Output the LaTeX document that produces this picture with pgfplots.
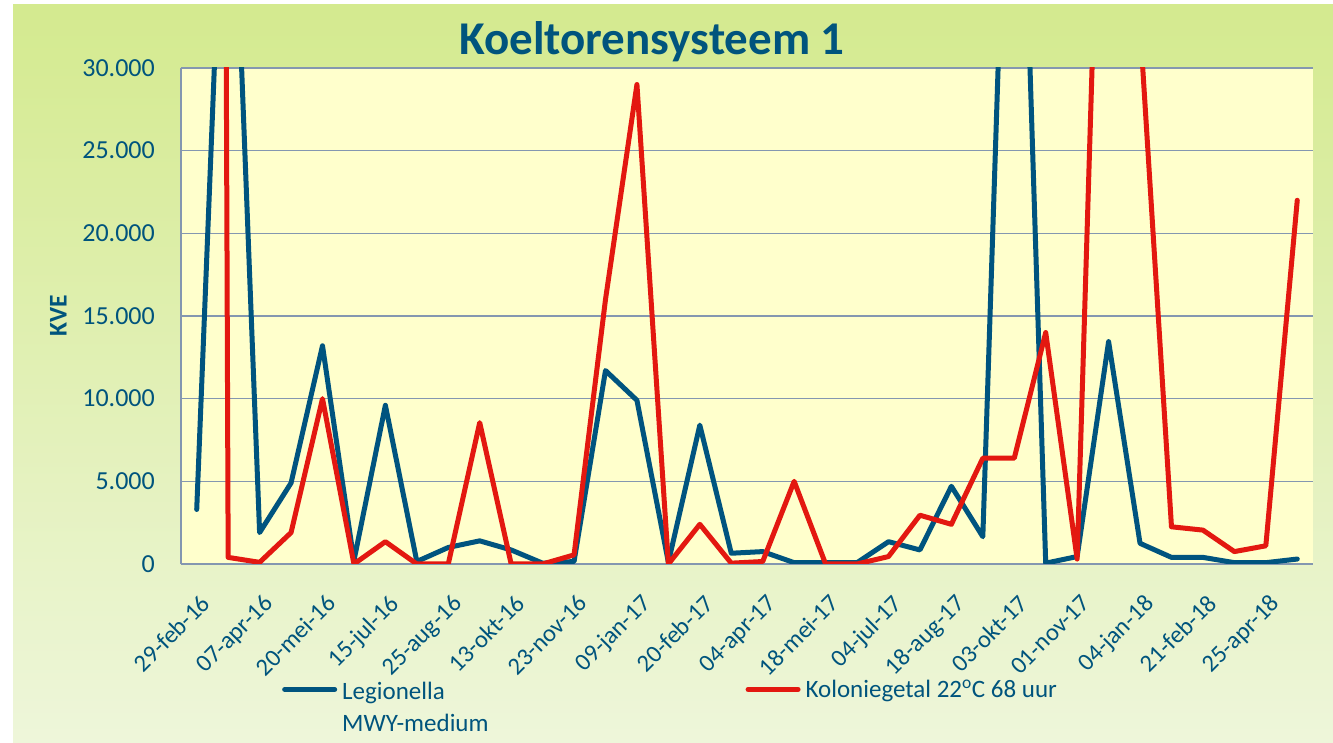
\documentclass[border=0pt]{standalone}
\usepackage{fontspec}
\setmainfont{Carlito}
\usepackage{pgfplots}
\usepackage{pgfplotstable}
\pgfplotsset{compat=1.18}
\definecolor{bgtop}{RGB}{212,234,143}
\definecolor{bgbot}{RGB}{238,246,218}
\definecolor{plotbg}{RGB}{255,255,204}
\definecolor{gridc}{RGB}{132,151,176}
\definecolor{txtblue}{RGB}{0,84,125}
\definecolor{legblue}{RGB}{0,84,127}
\definecolor{kred}{RGB}{227,24,16}

\pgfplotstableread{
i leg kol
0 3300 500000
1 51000 400
2 1900 100
3 4900 1900
4 13200 10000
5 200 0
6 9600 1350
7 150 0
8 1000 0
9 1400 8550
10 850 0
11 50 0
12 150 550
13 11700 16000
14 9900 29000
15 100 0
16 8400 2400
17 650 50
18 750 150
19 80 5000
20 80 0
21 80 0
22 1350 450
23 850 2950
24 4700 2400
25 1650 6400
26 60000 6400
27 50 14000
28 450 300
29 13450 63000
30 1250 32600
31 400 2250
32 400 2050
33 80 750
34 80 1100
35 300 22000
}\datatable

\begin{document}
\begin{tikzpicture}[x=1pt,y=1pt]
\path[use as bounding box] (0,0) rectangle (1333,743);
\fill[white] (0,0) rectangle (1333,743);
\shade[top color=bgtop, bottom color=bgbot] (13,0) rectangle (1333,738);
\begin{axis}[
  at={(181pt,179pt)}, anchor=south west,
  scale only axis, width=1132pt, height=496pt,
  xmin=-0.5, xmax=35.5, ymin=0, ymax=30000,
  scaled y ticks=false,
  axis background/.style={fill=plotbg},
  axis x line*=bottom, axis y line*=left,
  axis line style={draw=gridc, line width=1.2pt, -},
  ymajorgrids, grid style={draw=gridc, line width=1.2pt},
  major tick length=0pt,
  ytick={0,5000,10000,15000,20000,25000,30000},
  yticklabels={0,5.000,10.000,15.000,20.000,25.000,30.000},
  yticklabel style={font=\fontsize{26}{31}\selectfont, text=txtblue, anchor=east, inner sep=0pt, xshift=-26pt},
  xtick={0,2,...,34},
  xticklabels={29-feb-16,07-apr-16,20-mei-16,15-jul-16,25-aug-16,13-okt-16,23-nov-16,09-jan-17,20-feb-17,04-apr-17,18-mei-17,04-jul-17,18-aug-17,03-okt-17,01-nov-17,04-jan-18,21-feb-18,25-apr-18},
  xticklabel style={font=\fontsize{24.5}{29}\selectfont, text=txtblue, inner sep=0pt, xshift=3pt, yshift=-29pt, rotate=45, anchor=north east},
  title={Koeltorensysteem 1},
  every axis title/.style={at={(axis description cs:0.416,1.0262)}, anchor=base, font=\fontsize{47}{56}\selectfont\bfseries, text=txtblue},
  ylabel={KVE},
  ylabel style={at={(axis description cs:-0.1084,0.5)}, anchor=center, font=\fontsize{25.5}{30}\selectfont\bfseries, text=txtblue},
  legend columns=2,
  legend cell align=left,
  legend image code/.code={\draw[#1, line cap=round] (2.5pt,0pt) -- (52.5pt,0pt);},
  legend style={at={(axis description cs:0.0892,-0.2284)}, anchor=north west, draw=none, fill=none, inner sep=0pt,
    font=\fontsize{25}{32}\selectfont, text=txtblue, nodes={inner sep=0pt, text=txtblue},
    /tikz/every odd column/.append style={column sep=5pt},
    /tikz/every even column/.append style={column sep=257pt}},
]
\addplot[legblue, line width=5pt, line join=round, line cap=round] table[x=i,y=leg]{\datatable};
\addlegendentry{\begin{tabular}[t]{@{}l@{}}Legionella\\MWY-medium\end{tabular}}
\addplot[kred, line width=5pt, line join=round, line cap=round] table[x=i,y=kol]{\datatable};
\addlegendentry{Koloniegetal 22\textsuperscript{o}C 68 uur}
\end{axis}
\end{tikzpicture}
\end{document}
